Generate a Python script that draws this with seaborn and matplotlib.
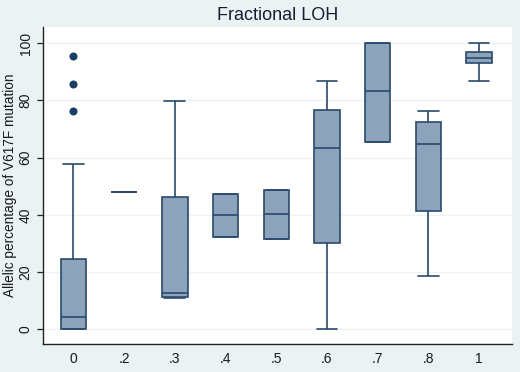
import numpy as np
import pandas as pd
import matplotlib
matplotlib.use("Agg")
import matplotlib.pyplot as plt
import seaborn as sns

# five-number summaries (Stata-style boxes)
loh_levels = ["0", ".2", ".3", ".4", ".5", ".6", ".7", ".8", "1"]
whisker_lo = [0.0, 48.0, 11.0, 32.1, 31.4, 0.1, 65.6, 18.8, 86.9]
box_q1 = [0.2, 48.0, 11.2, 32.1, 31.4, 30.3, 65.6, 41.3, 93.0]
box_median = [4.4, 48.0, 12.6, 39.8, 40.3, 63.3, 83.2, 64.9, 94.8]
box_q3 = [24.7, 48.0, 46.4, 47.2, 48.6, 76.7, 100.0, 72.3, 96.8]
whisker_hi = [57.8, 48.0, 79.9, 47.2, 48.6, 86.9, 100.0, 76.3, 100.0]

# points outside the whiskers
outlier_level = ["0", "0", "0"]
outlier_values = [95.6, 85.6, 76.3]

fill_col = "#8DA3BB"
edge_col = "#2A496B"
bg_col = "#EAF2F4"

rows = []
for i, lev in enumerate(loh_levels):
    for v in (whisker_lo[i], box_q1[i], box_median[i], box_q3[i], whisker_hi[i]):
        rows.append({"loh": lev, "pct": v})
box_df = pd.DataFrame(rows)
out_df = pd.DataFrame({"loh": outlier_level, "pct": outlier_values})

sns.set_style("white")
plt.rcParams["font.family"] = ["Liberation Sans", "DejaVu Sans"]

fig = plt.figure(figsize=(5.2, 3.72), dpi=100, facecolor=bg_col)
ax = fig.add_axes([0.0827, 0.0753, 0.9019, 0.8521])
ax.set_facecolor("white")

# faint horizontal grid like Stata s2color
for yv in range(0, 101, 20):
    ax.axhline(yv, color="#EDF2F4", lw=1.0, zorder=0)

sns.boxplot(
    data=box_df,
    x="loh",
    y="pct",
    order=loh_levels,
    whis=(0, 100),
    width=0.5,
    color=fill_col,
    linecolor=edge_col,
    linewidth=1.2,
    saturation=1,
    ax=ax,
)

# widen whisker caps (seaborn default is half the box width)
for ln in ax.lines:
    xd = np.asarray(ln.get_xdata(), dtype=float)
    yd = np.asarray(ln.get_ydata(), dtype=float)
    if len(xd) == 2 and yd[0] == yd[1] and abs((xd[1] - xd[0]) - 0.25) < 1e-6:
        c = xd.mean()
        ln.set_xdata([c - 0.205, c + 0.205])

sns.stripplot(
    data=out_df,
    x="loh",
    y="pct",
    order=loh_levels,
    jitter=False,
    color="#1A3F66",
    size=5.8,
    linewidth=0,
    ax=ax,
    zorder=5,
)

ax.set_xlim(-0.6, 8.65)
ax.set_ylim(-5.1, 105.6)
ax.set_yticks([0, 20, 40, 60, 80, 100])
ax.set_xlabel("")
ax.set_ylabel("Allelic percentage of V617F mutation", fontsize=9.8,
              color="#1a1a1a", labelpad=1)
ax.set_title("Fractional LOH", fontsize=13, color="#1b1b33", pad=5)

for s in ["top", "right"]:
    ax.spines[s].set_visible(False)
for s in ["left", "bottom"]:
    ax.spines[s].set_color("#222222")
    ax.spines[s].set_linewidth(1.0)

ax.tick_params(axis="y", direction="out", length=4.5, width=0.9,
               color="#222222", labelsize=10, labelcolor="#1a1a1a",
               pad=3, left=True, labelrotation=90)
ax.tick_params(axis="x", length=0, labelsize=10, labelcolor="#1a1a1a", pad=6)
for lab in ax.get_yticklabels():
    lab.set_va("center")

fig.savefig("out.png", dpi=100, facecolor=bg_col)
